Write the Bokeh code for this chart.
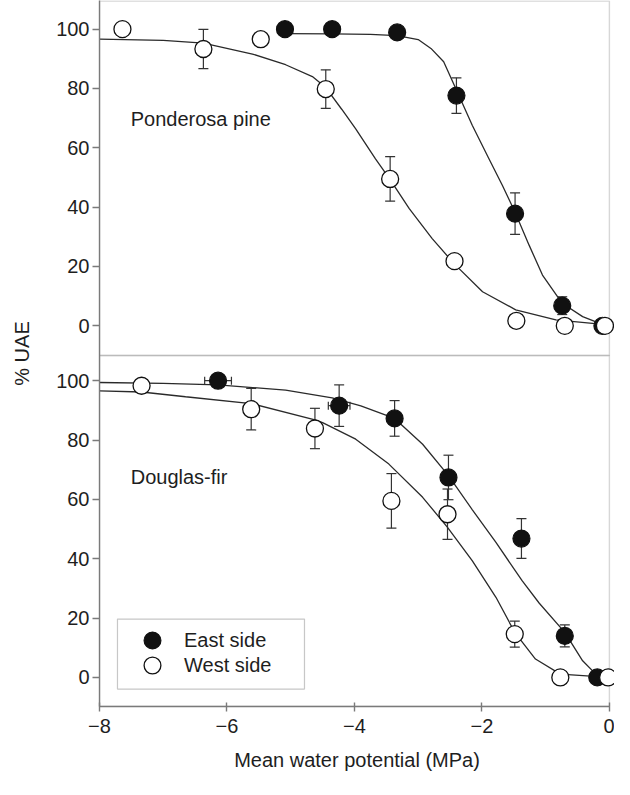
from bokeh.plotting import figure
from bokeh.models import (Range1d, FixedTicker, BoxAnnotation, Whisker, TeeHead,
                          ColumnDataSource, Label, Legend, LegendItem)
from bokeh.embed import file_html
from bokeh.resources import INLINE

# ---------------- data ----------------
X_TICKS = [-8, -6, -4, -2, 0]
X_TICK_LABELS = ["\u22128", "\u22126", "\u22124", "\u22122", "0"]
Y_TICKS = [0, 20, 40, 60, 80, 100]

# Ponderosa pine (top panel)
pp_east_x = [-5.09, -4.35, -3.33, -2.40, -1.48, -0.74, -0.11]
pp_east_y = [100, 100, 98.9, 77.6, 37.8, 6.8, 0]
pp_east_err = [0, 0, 0, 6, 7, 3, 0]

pp_west_x = [-7.64, -6.37, -5.47, -4.45, -3.44, -2.43, -1.46, -0.70, -0.07]
pp_west_y = [100, 93.3, 96.6, 79.8, 49.5, 21.8, 1.7, 0, 0]
pp_west_err = [0, 6.6, 0, 6.5, 7.5, 2, 0, 0, 0]

pp_east_fit_x = [-5.09, -4.35, -3.75, -3.33, -3.0, -2.8, -2.6, -2.4, -2.15, -1.89,
                 -1.68, -1.48, -1.26, -1.05, -0.74, -0.42, -0.11]
pp_east_fit_y = [98.5, 98.4, 98.2, 97.8, 96.5, 93.5, 89.0, 79.5, 67.5, 56.3,
                 47.4, 38.3, 27.2, 17.1, 7.6, 3.1, 0.5]

pp_west_fit_x = [-8.0, -7.0, -6.37, -5.6, -5.08, -4.66, -4.45, -4.2, -3.98, -3.67,
                 -3.44, -3.14, -2.78, -2.43, -1.99, -1.47, -0.84, -0.1]
pp_west_fit_y = [96.6, 96.2, 95.3, 91.6, 88.0, 84.0, 80.3, 73.0, 66.4, 56.3,
                 49.3, 39.5, 29.4, 20.8, 11.5, 5.4, 2.0, 0.5]

# Douglas-fir (bottom panel)
df_east_x = [-6.14, -4.24, -3.37, -2.525, -1.38, -0.70, -0.19]
df_east_y = [100, 91.6, 87.3, 67.4, 46.8, 14, 0]
df_east_err = [0, 7, 6, 7.5, 6.7, 3.7, 0]
df_east_xerr = [0.21, 0.17, 0, 0, 0, 0, 0]

df_west_x = [-7.34, -5.62, -4.62, -3.42, -2.54, -1.485, -0.77, -0.02]
df_west_y = [98.3, 90.4, 83.9, 59.5, 55, 14.6, 0, 0]
df_west_err = [0, 7, 6.8, 9.2, 8.5, 4.4, 0, 0]

df_east_fit_x = [-8.0, -7.0, -6.14, -5.08, -4.35, -3.9, -3.37, -2.93, -2.525, -2.15,
                 -1.78, -1.37, -1.10, -0.70, -0.42, -0.19, 0.0]
df_east_fit_y = [99.4, 99.1, 98.6, 96.8, 94.2, 91.5, 87.3, 78.6, 68.0, 56.5,
                 45.5, 32.6, 25.0, 15.2, 5.6, 0.6, 0.0]

df_west_fit_x = [-8.0, -7.34, -6.65, -5.62, -4.62, -4.5, -3.98, -3.46, -2.93, -2.54,
                 -2.15, -1.78, -1.485, -1.16, -0.77, 0.0]
df_west_fit_y = [96.6, 96.2, 94.6, 92.3, 86.8, 85.9, 80.3, 71.9, 60.7, 50.6,
                 39.3, 27.0, 15.2, 6.2, 1.1, 0.0]

SPECIES = ["Ponderosa pine", "Douglas-fir"]
SERIES = ["East side", "West side"]

# ---------------- layout constants ----------------
TOP_OFFSET = 118.5          # top panel drawn above the bottom one on a shared scale
Y_MIN, Y_SPLIT, Y_MAX = -9.8, 108.5, 228.0
FONT = "Liberation Sans"
TXT = "#1e1e1e"
FRAME = "#7a7a7a"
INK = "#111111"
CURVE = "#2a2a2a"

p = figure(width=614, height=778, x_range=Range1d(-8, 0.08),
           y_range=Range1d(Y_MIN, Y_MAX + 0.15),
           output_backend="svg", toolbar_location=None,
           min_border_left=99, min_border_right=0, min_border_top=0,
           min_border_bottom=72)
p.outline_line_color = None
p.grid.visible = False
p.background_fill_color = "white"
p.border_fill_color = "white"

# panel frames
for b, t in [(Y_MIN, Y_SPLIT), (Y_SPLIT, Y_MAX)]:
    p.add_layout(BoxAnnotation(left=-8, right=0, bottom=b, top=t,
                               fill_color=None, fill_alpha=0,
                               line_color=FRAME, line_width=1.4, level="underlay"))

# axes
xa = p.xaxis[0]
xa.ticker = FixedTicker(ticks=X_TICKS)
xa.major_label_overrides = {t: l for t, l in zip(X_TICKS, X_TICK_LABELS)}
xa.bounds = (-8, 0)
xa.axis_line_color = FRAME
xa.axis_line_width = 1.4
xa.major_tick_line_color = FRAME
xa.major_tick_line_width = 1.4
xa.major_tick_in = 4
xa.major_tick_out = 5
xa.minor_tick_line_color = None
xa.major_label_text_font = FONT
xa.major_label_text_font_size = "20px"
xa.major_label_text_color = TXT
xa.major_label_standoff = 7
xa.axis_label = "Mean water potential (MPa)"
xa.axis_label_text_font = FONT
xa.axis_label_text_font_size = "20px"
xa.axis_label_text_font_style = "normal"
xa.axis_label_text_color = TXT
xa.axis_label_standoff = 13

ya = p.yaxis[0]
y_ticks_all = Y_TICKS + [t + TOP_OFFSET for t in Y_TICKS]
ya.ticker = FixedTicker(ticks=y_ticks_all)
ya.major_label_overrides = {t: str(t) for t in Y_TICKS}
ya.major_label_overrides.update({t + TOP_OFFSET: str(t) for t in Y_TICKS})
ya.axis_line_color = FRAME
ya.axis_line_width = 1.4
ya.major_tick_line_color = FRAME
ya.major_tick_line_width = 1.4
ya.major_tick_in = 0
ya.major_tick_out = 7
ya.minor_tick_line_color = None
ya.major_label_text_font = FONT
ya.major_label_text_font_size = "20px"
ya.major_label_text_color = TXT
ya.major_label_standoff = 3
ya.axis_label = "% UAE"
ya.axis_label_text_font = FONT
ya.axis_label_text_font_size = "20px"
ya.axis_label_text_font_style = "normal"
ya.axis_label_text_color = TXT
ya.axis_label_standoff = 20


def shift(vals, off):
    return [v + off for v in vals]


def add_series(x, y, err, off, xerr=None):
    ys = shift(y, off)
    src = ColumnDataSource(dict(x=x, y=ys))
    vis = ColumnDataSource(dict(
        x=[a for a, e in zip(x, err) if e > 0],
        lo=[a - e for a, e in zip(ys, err) if e > 0],
        hi=[a + e for a, e in zip(ys, err) if e > 0]))
    p.add_layout(Whisker(source=vis, base="x", lower="lo", upper="hi",
                         dimension="height", line_color="#333333", line_width=1.2,
                         upper_head=TeeHead(size=10, line_color="#333333", line_width=1.2),
                         lower_head=TeeHead(size=10, line_color="#333333", line_width=1.2),
                         level="underlay"))
    if xerr is not None:
        hs = ColumnDataSource(dict(
            y=[b for b, e in zip(ys, xerr) if e > 0],
            lo=[a - e for a, e in zip(x, xerr) if e > 0],
            hi=[a + e for a, e in zip(x, xerr) if e > 0]))
        p.add_layout(Whisker(source=hs, base="y", lower="lo", upper="hi",
                             dimension="width", line_color="#333333", line_width=1.2,
                             upper_head=TeeHead(size=8, line_color="#333333", line_width=1.2),
                             lower_head=TeeHead(size=8, line_color="#333333", line_width=1.2),
                             level="underlay"))
    return src


# fitted curves
p.line(pp_east_fit_x, shift(pp_east_fit_y, TOP_OFFSET), line_color=CURVE, line_width=1.3)
p.line(pp_west_fit_x, shift(pp_west_fit_y, TOP_OFFSET), line_color=CURVE, line_width=1.3)
p.line(df_east_fit_x, df_east_fit_y, line_color=CURVE, line_width=1.3)
p.line(df_west_fit_x, df_west_fit_y, line_color=CURVE, line_width=1.3)

# points
s = add_series(pp_east_x, pp_east_y, pp_east_err, TOP_OFFSET)
p.scatter("x", "y", source=s, marker="circle", size=17, fill_color=INK, line_color=INK, line_width=1.2)
s = add_series(pp_west_x, pp_west_y, pp_west_err, TOP_OFFSET)
p.scatter("x", "y", source=s, marker="circle", size=17, fill_color="white", line_color=INK, line_width=1.3)

s = add_series(df_east_x, df_east_y, df_east_err, 0, xerr=df_east_xerr)
r_east = p.scatter("x", "y", source=s, marker="circle", size=17, fill_color=INK, line_color=INK, line_width=1.2)
s = add_series(df_west_x, df_west_y, df_west_err, 0)
r_west = p.scatter("x", "y", source=s, marker="circle", size=17, fill_color="white", line_color=INK, line_width=1.3)

# panel labels
p.add_layout(Label(x=-7.51, y=69.7 + TOP_OFFSET, text=SPECIES[0], text_font=FONT,
                   text_font_size="20px", text_color=TXT, text_baseline="middle"))
p.add_layout(Label(x=-7.51, y=67.4, text=SPECIES[1], text_font=FONT,
                   text_font_size="20px", text_color=TXT, text_baseline="middle"))

# legend: white box with border, then one borderless legend per entry
p.add_layout(BoxAnnotation(left=-7.718, right=-4.784, bottom=-3.94, top=19.65,
                           fill_color="white", fill_alpha=1.0,
                           line_color="#444444", line_width=1.2, level="overlay"))
for item_label, rend, loc_y in [(SERIES[0], r_east, 45), (SERIES[1], r_west, 20)]:
    lg = Legend(items=[LegendItem(label=item_label, renderers=[rend])],
                location=(21, loc_y), padding=0, spacing=0,
                glyph_width=64, glyph_height=42, label_height=22, label_width=100,
                label_standoff=0, label_text_font=FONT, label_text_font_size="20px",
                label_text_color=TXT, border_line_color=None,
                background_fill_alpha=0.0, margin=0)
    p.add_layout(lg)

open("out.html", "w").write(file_html(p, INLINE))
